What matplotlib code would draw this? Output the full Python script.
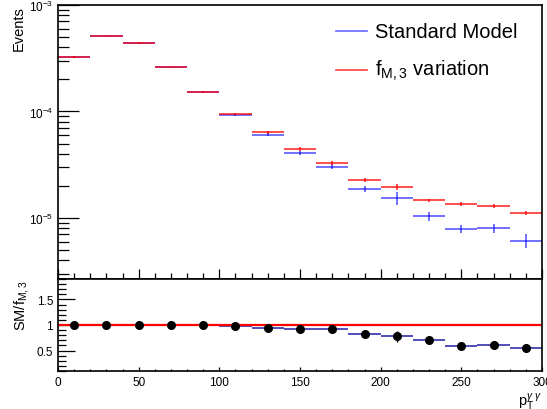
import matplotlib
matplotlib.use('Agg')
import matplotlib.pyplot as plt
from matplotlib.ticker import MultipleLocator, LogLocator, NullFormatter
import numpy as np

plt.rcParams['font.family'] = ['Liberation Sans', 'DejaVu Sans']
plt.rcParams['mathtext.fontset'] = 'custom'
plt.rcParams['mathtext.rm'] = 'Liberation Sans'
plt.rcParams['mathtext.it'] = 'Liberation Sans:italic'
plt.rcParams['mathtext.sf'] = 'Liberation Sans'

# ── data ─────────────────────────────────────────────────────────────────────
bin_edges = np.arange(0, 301, 20)
bin_centers = [10, 30, 50, 70, 90, 110, 130, 150, 170, 190, 210, 230, 250, 270, 290]

sm_vals = [3.25e-4, 5.15e-4, 4.40e-4, 2.60e-4, 1.52e-4, 9.27e-5, 6.05e-5, 4.10e-5,
           3.03e-5, 1.87e-5, 1.54e-5, 1.04e-5, 7.9e-6, 8.0e-6, 6.1e-6]
sm_err = [5e-6, 7e-6, 6e-6, 4e-6, 3e-6, 2.5e-6, 2.2e-6, 1.8e-6,
          1.6e-6, 1.2e-6, 2.2e-6, 1.0e-6, 0.7e-6, 0.8e-6, 0.9e-6]

fm3_vals = [3.25e-4, 5.15e-4, 4.40e-4, 2.60e-4, 1.53e-4, 9.50e-5, 6.37e-5, 4.42e-5,
            3.31e-5, 2.28e-5, 1.97e-5, 1.46e-5, 1.35e-5, 1.30e-5, 1.11e-5]
fm3_err = [5e-6, 6e-6, 6e-6, 4e-6, 3e-6, 2.5e-6, 2.5e-6, 2.0e-6,
           1.5e-6, 1.0e-6, 1.3e-6, 0.6e-6, 0.6e-6, 0.6e-6, 0.5e-6]

ratio_err = [0.02, 0.02, 0.02, 0.02, 0.02, 0.03, 0.03, 0.04,
             0.04, 0.05, 0.11, 0.04, 0.04, 0.05, 0.06]

ratio = np.array(sm_vals) / np.array(fm3_vals)
half_w = np.diff(bin_edges) / 2

BLUE = (0, 0, 1, 0.6)
RED = (1, 0, 0, 0.75)

W, H = 547, 410
fig = plt.figure(figsize=(W / 100, H / 100), dpi=100)
ax = fig.add_axes([58 / W, 1 - 280 / H, (542 - 58) / W, (280 - 6) / H])
rx = fig.add_axes([58 / W, 1 - 372 / H, (542 - 58) / W, (372 - 280) / H])

# ── top pad ──────────────────────────────────────────────────────────────────
ax.errorbar(bin_centers, sm_vals, xerr=half_w, yerr=sm_err, fmt='none',
            ecolor=BLUE, elinewidth=1.3, capsize=0)
ax.errorbar(bin_centers, fm3_vals, xerr=half_w, yerr=fm3_err, fmt='none',
            ecolor=RED, elinewidth=1.3, capsize=0)
ax.set_yscale('log')
ax.set_xlim(0, 300)
ax.set_ylim(2.67e-6, 1e-3)
ax.yaxis.set_major_locator(LogLocator(base=10, numticks=10))
ax.yaxis.set_minor_locator(LogLocator(base=10, subs=np.arange(2, 10), numticks=10))
ax.yaxis.set_minor_formatter(NullFormatter())
ax.xaxis.set_major_locator(MultipleLocator(50))
ax.xaxis.set_minor_locator(MultipleLocator(10))
ax.tick_params(axis='both', which='both', direction='in', top=False, right=False,
               labelsize=8.5, width=0.9)
ax.tick_params(axis='y', which='major', length=15)
ax.tick_params(axis='y', which='minor', length=8)
ax.tick_params(axis='x', which='major', length=7)
ax.tick_params(axis='x', which='minor', length=4)
ax.tick_params(axis='x', labelbottom=False)
for s in ax.spines.values():
    s.set_linewidth(1.2)
ax.set_ylabel('Events', fontsize=10.5, loc='top', labelpad=2)

# legend drawn by hand
for yy, col, lab in [(0.905, BLUE, 'Standard Model'),
                     (0.762, RED, r'f$_{\mathrm{M,3}}$ variation')]:
    ax.plot([0.574, 0.638], [yy, yy], transform=ax.transAxes, color=col, lw=1.2)
    ax.text(0.655, yy, lab, transform=ax.transAxes, fontsize=14.5,
            ha='left', va='center')

# ── ratio pad ────────────────────────────────────────────────────────────────
rx.errorbar(bin_centers, ratio, xerr=half_w, fmt='none', ecolor=(0, 0, 0.6, 0.75),
            elinewidth=1.3)
rx.axhline(1.0, color='red', lw=1.6)
rx.errorbar(bin_centers, ratio, yerr=ratio_err, fmt='o', color='black',
            markersize=5.5, elinewidth=1.0, capsize=0)
rx.set_xlim(0, 300)
rx.set_ylim(0.1, 1.9)
rx.yaxis.set_major_locator(MultipleLocator(0.5))
rx.yaxis.set_minor_locator(MultipleLocator(0.1))
rx.xaxis.set_major_locator(MultipleLocator(50))
rx.xaxis.set_minor_locator(MultipleLocator(10))
rx.tick_params(axis='both', which='both', direction='in', top=False, right=False,
               labelsize=8.5, width=0.9)
rx.tick_params(axis='y', which='major', length=12)
rx.tick_params(axis='y', which='minor', length=6)
rx.tick_params(axis='x', which='major', length=3)
rx.tick_params(axis='x', which='minor', length=1.5)
rx.set_yticks([0.5, 1.0, 1.5])
rx.set_yticklabels(['0.5', '1', '1.5'])
rx.set_xticks([0, 50, 100, 150, 200, 250, 300])
rx.set_xticklabels(['0', '50', '100', '150', '200', '250', '300'])
for s in rx.spines.values():
    s.set_linewidth(1.2)
rx.set_ylabel(r'SM/f$_{\mathrm{M,3}}$', fontsize=10.5, loc='top', labelpad=4)
rx.set_xlabel(r'p$_{\mathrm{T}}^{\gamma\ \gamma}$', fontsize=10.5, loc='right', labelpad=2)

fig.savefig('out.png', dpi=100)
